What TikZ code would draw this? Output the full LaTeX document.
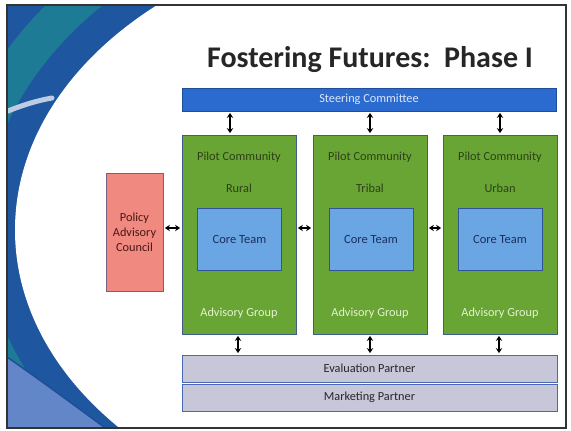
\documentclass[tikz,border=0pt]{standalone}
\usepackage{fontspec}
\setmainfont{Carlito}
\usetikzlibrary{arrows.meta}
\definecolor{frameC}{HTML}{333333}
\definecolor{bgblue}{HTML}{1F56A0}
\definecolor{bgteal}{HTML}{1D7B96}
\definecolor{bglight}{HTML}{6286C8}
\definecolor{steerC}{HTML}{2B6BD0}
\definecolor{steerB}{HTML}{1F4E98}
\definecolor{greenC}{HTML}{68A534}
\definecolor{greenB}{HTML}{3F5C8A}
\definecolor{coreC}{HTML}{6AA6E4}
\definecolor{coreB}{HTML}{2F5597}
\definecolor{pinkC}{HTML}{F0897F}
\definecolor{pinkB}{HTML}{7A5E86}
\definecolor{grayC}{HTML}{C8C6D9}
\definecolor{grayB}{HTML}{4A68B0}
\definecolor{darkG}{HTML}{2E3F18}
\definecolor{paleG}{HTML}{E6F2D2}
\definecolor{navyT}{HTML}{1B2F5C}
\definecolor{maroonT}{HTML}{4A1616}
\definecolor{steerT}{HTML}{DCE6F8}
\begin{document}
\begin{tikzpicture}[x=1pt,y=-1pt,
  box/.style={draw, line width=0.9pt, inner sep=0pt, anchor=center},
  greenbox/.style={box, fill=greenC, draw=greenB, minimum width=114pt, minimum height=199pt},
  corebox/.style={box, fill=coreC, draw=coreB, minimum width=84pt, minimum height=62pt, font=\fontsize{12.5}{14}\selectfont, text=navyT},
  barbox/.style={box, fill=grayC, draw=grayB, minimum width=375pt, minimum height=27pt, font=\fontsize{12.3}{14}\selectfont, text=black!85},
  lbl/.style={inner sep=0pt, font=\fontsize{12.3}{14}\selectfont},
  dbl/.style={{Stealth[length=5pt,width=6.5pt]}-{Stealth[length=5pt,width=6.5pt]}, line width=1.5pt, black, shorten <=1.5pt, shorten >=1.5pt}
]
\useasboundingbox (0,0) rectangle (571,431);
\fill[white] (0,0) rectangle (571,431);
% background decoration
\begin{scope}
\clip (7,5) rectangle (566,428);
\fill[bgblue] (7,5) rectangle (566,428);
\draw[bgteal, line width=38pt] (435,230) ellipse [x radius=470pt, y radius=352pt];
\fill[bglight] (7,357) .. controls (40,380) and (70,402) .. (108,430) -- (7,430) -- cycle;
\draw[steerB, line width=1.5pt] (7,357) .. controls (40,380) and (70,402) .. (108,430);
\draw[white!70!bgblue, line width=5pt, line cap=round] (3,113) .. controls (20,106) and (35,101) .. (52,98);
\fill[white] (435,230) ellipse [x radius=420pt, y radius=300pt];
\end{scope}
\draw[frameC, line width=2pt] (7,5) rectangle (566,428);
% title
\node[anchor=base, inner sep=0pt, font=\bfseries\fontsize{30}{34}\selectfont, text=black!85] (title) at (370,67) {Fostering Futures:\ \ Phase I};
% steering
\node[box, fill=steerC, draw=steerB, minimum width=374pt, minimum height=23pt, font=\fontsize{12.3}{14}\selectfont, text=steerT] (steer) at (369,99.5) {Steering Committee};
% green boxes
\node[greenbox] (g1) at (239,234.5) {};
\node[greenbox] (g2) at (370,234.5) {};
\node[greenbox] (g3) at (500,234.5) {};
\node[corebox] (c1) at (239.5,239) {Core Team};
\node[corebox] (c2) at (371,239) {Core Team};
\node[corebox] (c3) at (500,239) {Core Team};
\node[lbl, text=darkG] (p1) at (239,157) {Pilot Community};
\node[lbl, text=darkG] (p2) at (370,157) {Pilot Community};
\node[lbl, text=darkG] (p3) at (500,157) {Pilot Community};
\node[lbl, text=darkG] (r1) at (239,188) {Rural};
\node[lbl, text=darkG] (r2) at (370,188) {Tribal};
\node[lbl, text=darkG] (r3) at (500,188) {Urban};
\node[lbl, text=paleG] (a1) at (239,313) {Advisory Group};
\node[lbl, text=paleG] (a2) at (370,313) {Advisory Group};
\node[lbl, text=paleG] (a3) at (500,313) {Advisory Group};
% policy
\node[box, fill=pinkC, draw=pinkB, minimum width=57pt, minimum height=118pt, align=center, font=\fontsize{12.3}{15}\selectfont, text=maroonT] (pol) at (134.5,232) {Policy\\Advisory\\Council};
% partners
\node[barbox] (eval) at (369.5,368.5) {Evaluation Partner};
\node[barbox] (mark) at (369.5,397.5) {Marketing Partner};
% arrow positions
\coordinate (t1) at (230,0);
\coordinate (t2) at (370,0);
\coordinate (t3) at (500,0);
\coordinate (b1) at (238,0);
\coordinate (b2) at (370,0);
\coordinate (b3) at (499,0);
\coordinate (hy) at (0,228);
\draw[dbl] (steer.south -| t1) -- (g1.north -| t1);
\draw[dbl] (steer.south -| t2) -- (g2.north -| t2);
\draw[dbl] (steer.south -| t3) -- (g3.north -| t3);
\draw[dbl] (g1.south -| b1) -- (eval.north -| b1);
\draw[dbl] (g2.south -| b2) -- (eval.north -| b2);
\draw[dbl] (g3.south -| b3) -- (eval.north -| b3);
\draw[dbl] (pol.east |- hy) -- (g1.west |- hy);
\draw[dbl] (g1.east |- hy) -- (g2.west |- hy);
\draw[dbl] (g2.east |- hy) -- (g3.west |- hy);
\end{tikzpicture}
\end{document}
